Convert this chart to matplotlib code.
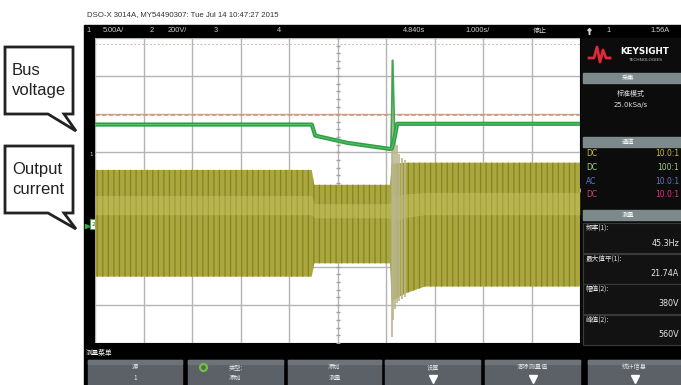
import numpy as np
import matplotlib
matplotlib.use("Agg")
import matplotlib.pyplot as plt
from matplotlib.patches import Rectangle, Polygon

plt.rcParams['hatch.linewidth'] = 0.9
CJK = ['Noto Sans CJK SC', 'DejaVu Sans']

# bus voltage trace (ch2), screen divisions vs time divisions
bus_t = [0.0, 4.47, 4.54, 5.20, 6.08, 6.12, 6.18, 6.23, 10.0]
bus_v = [1.73, 1.73, 1.44, 1.25, 1.09, 1.10, 1.40, 1.75, 1.75]
spike_t = [6.10, 6.14, 6.18]
spike_v = [1.10, 3.42, 1.40]

# output current envelope (ch1)
cur_t = [0.0, 4.47, 4.52, 6.08, 6.12, 6.40, 6.80, 10.0]
cur_hi = [0.54, 0.54, 0.15, 0.15, 0.70, 0.73, 0.73, 0.73]
cur_lo = [-2.26, -2.26, -1.91, -1.91, -2.90, -2.70, -2.52, -2.52]

# ringing right after the bus recovers
ring_t = [6.12, 6.15, 6.18, 6.22, 6.27, 6.33, 6.40]
ring_hi = [3.42, 2.40, 1.60, 1.20, 0.95, 0.85, 0.80]
ring_lo = [-3.84, -3.40, -3.10, -2.95, -2.90, -2.85, -2.80]

ref_level = 1.97

status_items = [("1", 86), ("5.00A/", 103), ("2", 150), ("200V/", 168), ("3", 214),
                ("4", 277), ("4.840s", 403), ("1.000s/", 465), ("1", 606), ("1.56A", 650)]
chan_rows = [("DC", "10.0:1", '#c9c23a'), ("DC", "100:1", '#9fd28a'),
             ("AC", "10.0:1", '#6a74d0'), ("DC", "10.0:1", '#d0407c')]
meas_names = ["频率(1):", "最大值平(1):", "幅值(2):", "峰值(2):"]
meas_values = ["45.3Hz", "21.74A", "380V", "560V"]
softkeys = [("源", "1"), ("类型:", "添加"), ("添加", "测量"),
            ("设置", None), ("清除测量值", None), ("统计信息", None)]

fig = plt.figure(figsize=(6.81, 3.85), dpi=100)
bg = fig.add_axes([0, 0, 1, 1])
bg.set_xlim(0, 681)
bg.set_ylim(385, 0)
bg.axis('off')

# scope bezel
bg.add_patch(Rectangle((84, 25), 600, 362, color='black', zorder=1))
bg.text(87, 15, "DSO-X 3014A, MY54490307: Tue Jul 14 10:47:27 2015", fontsize=5.6,
        family='Liberation Sans', color='#333333', va='center')
for s, x in status_items:
    bg.text(x, 31, s, fontsize=5.3, color='#d0d0d0', va='center', family='Liberation Sans')
bg.text(533, 31, "停止", fontsize=5, color='#d0d0d0', va='center', family=CJK)
bg.plot([589], [31], marker='$\u2191$', ms=4, color='#d0d0d0')

# right side panel
bg.add_patch(Rectangle((581, 38), 100, 305, color='#0c0c0c', zorder=2))
bg.plot([589, 594, 597, 600, 603, 606, 610], [58, 58, 47, 62, 50, 58, 58],
        color='#e0283a', lw=2, zorder=3)
bg.text(645, 52, "KEYSIGHT", fontsize=6.3, weight='bold', color='white', ha='center',
        va='center', zorder=3)
bg.text(645, 60, "TECHNOLOGIES", fontsize=3.2, color='#bbbbbb', ha='center',
        va='center', zorder=3)
for y0, title in [(73, "采集"), (137, "通道"), (210, "测量")]:
    bg.add_patch(Rectangle((583, y0), 98, 10, color='#7d8a8c', zorder=3))
    bg.text(628, y0 + 5, title, fontsize=4.5, color='white', ha='center', va='center',
            family=CJK, zorder=4)
bg.text(631, 94, "标准模式", fontsize=5, color='#e0e0e0', ha='center', va='center',
        family=CJK, zorder=4)
bg.text(631, 105, "25.0kSa/s", fontsize=5, color='#e0e0e0', ha='center', va='center',
        zorder=4)
for k, (cpl, probe, col) in enumerate(chan_rows):
    y = 154 + 13.5 * k
    bg.text(586, y, cpl, fontsize=5.5, color=col, va='center', zorder=4)
    bg.text(679, y, probe, fontsize=5.5, color=col, va='center', ha='right', zorder=4)
for k, (name, val) in enumerate(zip(meas_names, meas_values)):
    y = 228 + 30.5 * k
    bg.add_patch(Rectangle((583, y - 5), 98, 30, facecolor='#121212',
                           edgecolor='#3a3a3a', lw=0.8, zorder=3))
    bg.text(586, y, name, fontsize=4.8, color='#e6e6e6', va='center', family=CJK, zorder=4)
    bg.text(679, y + 15, val, fontsize=5.8, color='#e6e6e6', va='center', ha='right',
            zorder=4)

# softkey bar
bg.text(86, 353, "测量菜单", fontsize=4.8, color='white', va='center', family=CJK)
keys_x = [(88, 182), (188, 283), (288, 381), (385, 480), (485, 580), (588, 681)]
for (x0, x1), (top, bot) in zip(keys_x, softkeys):
    bg.add_patch(Rectangle((x0, 360), x1 - x0, 26, color='#5b6167', zorder=2))
    bg.add_patch(Rectangle((x0, 360), x1 - x0, 4, color='#6d7379', zorder=2))
    xc = (x0 + x1) / 2
    bg.text(xc, 367, top, fontsize=4.5, color='#e6e6e6', ha='center', va='center',
            family=CJK, zorder=3)
    if bot is not None:
        bg.text(xc, 378, bot, fontsize=4.5, color='#e6e6e6', ha='center', va='center',
                family=CJK, zorder=3)
    else:
        bg.plot([xc], [379], marker='v', ms=6, color='white', zorder=3)
bg.plot([203], [367], marker='o', ms=5, mfc='none', mec='#6fc43a', mew=1.6, zorder=3)

# callouts
for (y0, y1, tip), txt in [((47, 114, 131), "Bus\nvoltage"),
                           ((146, 213, 229), "Output\ncurrent")]:
    pts = [(5, y0), (73, y0), (73, y1), (64, y1), (76, tip), (48, y1), (5, y1)]
    bg.add_patch(Polygon(pts, closed=True, facecolor='white', edgecolor='#222222',
                         lw=2, zorder=5))
    bg.text(12, (y0 + y1) / 2, txt, fontsize=12, family='Liberation Sans',
            color='#222222', va='center', linespacing=1.45, zorder=6)

# waveform area
ax = fig.add_axes([95 / 681, 1 - 343 / 385, 485 / 681, 305 / 385])
ax.set_facecolor('white')
ax.set_xlim(0, 10)
ax.set_ylim(-4, 4)
ax.set_xticks(range(11))
ax.set_yticks(range(-4, 5))
ax.grid(True, color='#b4b4b4', lw=1)
ax.tick_params(length=0, labelbottom=False, labelleft=False)
for sp in ax.spines.values():
    sp.set_visible(False)
minor = np.arange(-4, 4.01, 0.2)
ax.plot(np.full(minor.size, 5.0), minor, ls='none', marker='_', ms=3, color='#a0a0a0')
ax.plot(np.arange(0, 10.01, 0.2), np.zeros(51), ls='none', marker='|', ms=3,
        color='#a0a0a0')

ax.axhline(3.84, color='#d8b8a0', lw=0.7, ls=(0, (2, 2)))
ax.axhline(ref_level, color='#e08e62', lw=1.1, ls=(0, (3, 1.5)))

ax.fill_between(cur_t, cur_lo, cur_hi, facecolor='#aaa73f', edgecolor='#858326',
                hatch='|||', lw=0, zorder=3)
band_mid_hi = [lo + 0.76 * (hi - lo) for lo, hi in zip(cur_lo, cur_hi)]
band_mid_lo = [lo + 0.58 * (hi - lo) for lo, hi in zip(cur_lo, cur_hi)]
ax.fill_between(cur_t, band_mid_lo, band_mid_hi, color='#cfcc6a', alpha=0.4,
                lw=0, zorder=4)
ax.vlines(ring_t, ring_lo, ring_hi, color='#b9b68e', lw=1.2, zorder=5)
ax.plot(spike_t, spike_v, color='#3aa850', lw=1.2, zorder=6)
ax.plot(bus_t, bus_v, color='#2f9f45', lw=3, zorder=6)
ax.plot(bus_t, bus_v, color='#55c065', lw=0.8, zorder=7)

# channel ground markers
bg.add_patch(Rectangle((90, 219), 7, 10, facecolor='white', edgecolor='#3aa84a',
                       lw=0.8, zorder=8))
bg.text(93.5, 224, "2", fontsize=4.5, color='#206030', ha='center', va='center', zorder=9)
bg.plot([87], [226], marker='>', ms=3, color='#3aa84a', zorder=8)
bg.text(89, 155, "1", fontsize=4, color='#c8c8c8', va='center', zorder=8)
bg.plot([103], [41], marker='v', ms=3.5, color='#e07a30', zorder=8)

fig.savefig("out.png", dpi=100)
